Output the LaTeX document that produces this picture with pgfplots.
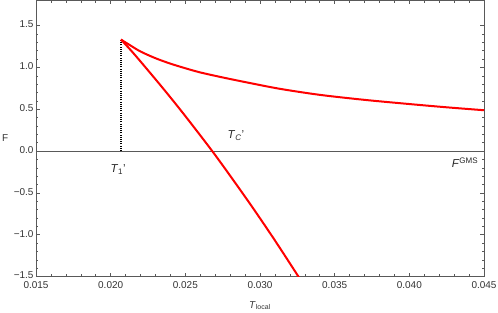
\documentclass[border=0pt]{standalone}
\usepackage{fontspec}
\setmainfont{Liberation Sans}
\usepackage{pgfplots}
\pgfplotsset{compat=1.18}
\definecolor{framegray}{gray}{0.35}
\begin{document}
\begin{tikzpicture}
\begin{axis}[
  scale only axis,
  width=448bp, height=276bp,
  xmin=0.015, xmax=0.045,
  ymin=-1.5, ymax=1.8,
  axis line style={framegray, line width=0.6pt},
  tick style={framegray, line width=0.5pt},
  tick pos=both,
  tick align=inside,
  major tick length=4bp,
  minor tick length=2.2bp,
  xtick={0.015,0.020,0.025,0.030,0.035,0.040,0.045},
  xticklabels={0.015,0.020,0.025,0.030,0.035,0.040,0.045},
  ytick={-1.5,-1.0,-0.5,0,0.5,1.0,1.5},
  yticklabels={−1.5,−1.0,−0.5,0.0,0.5,1.0,1.5},
  minor x tick num=4,
  minor y tick num=4,
  every tick label/.append style={font=\fontsize{10}{11}\selectfont, text=black!80},
  xticklabel style={yshift=-1.5bp},
  yticklabel style={xshift=1bp, yshift=1bp},
  scaled x ticks=false,
  xlabel={\textit{T}\textsubscript{local}},
  ylabel={F},
  xlabel style={font=\fontsize{10}{11}\selectfont, text=black!80, at={(axis description cs:0.5,-0.105)}, anchor=center},
  ylabel style={font=\fontsize{10}{11}\selectfont, text=black!80, at={(axis description cs:-0.069,0.5)}, anchor=center, rotate=-90},
  clip=true,
]
% zero line
\addplot[framegray, line width=0.6pt] coordinates {(0.015,0) (0.045,0)};
% vertical dotted line at T1'
\addplot[black, line width=2bp, dash pattern=on 1.1bp off 1.1bp] coordinates {(0.02069,0) (0.02069,1.333)};
% upper branch
\addplot[red, line width=2bp, smooth] coordinates {
(0.02069,1.333) (0.0213,1.265) (0.0220,1.190) (0.0230,1.110) (0.0240,1.045)
(0.0250,0.990) (0.0260,0.940) (0.0275,0.880) (0.0290,0.825) (0.0313,0.745)
(0.0340,0.672) (0.0370,0.612) (0.0400,0.562) (0.0425,0.523) (0.045,0.488)
};
% lower branch
\addplot[red, line width=2bp, smooth] coordinates {
(0.02069,1.333) (0.0215,1.175) (0.0225,0.965) (0.0235,0.751) (0.0245,0.531)
(0.0255,0.303) (0.0268,0.000) (0.0280,-0.295) (0.0295,-0.674) (0.0310,-1.069)
(0.0326,-1.508) (0.0330,-1.62)
};
\node[font=\fontsize{11.5}{12}\selectfont, text=black!85] at (axis cs:0.0205,-0.226) {\textit{T}\textsubscript{1}'};
\node[font=\fontsize{11.5}{12}\selectfont, text=black!85] at (axis cs:0.02839,0.18) {\textit{T}\textsubscript{\textit{C}}'};
\node[font=\fontsize{11.5}{12}\selectfont, text=black!85] at (axis cs:0.04373,-0.14) {\textit{F}\textsuperscript{GMS}};
\end{axis}
\pgfresetboundingbox
\path[use as bounding box] (-36bp,-36bp) rectangle (462bp,276.5bp);
\end{tikzpicture}
\end{document}
